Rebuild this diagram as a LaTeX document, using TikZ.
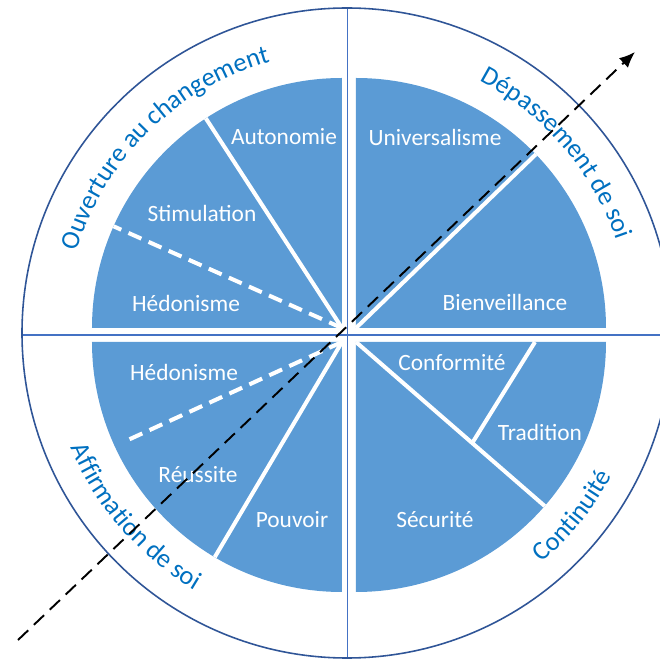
\documentclass[tikz,border=0pt]{standalone}
\usepackage{fontspec}
\setmainfont{Carlito}
\usetikzlibrary{arrows.meta,decorations.text}
\definecolor{pieblue}{HTML}{5B9BD5}
\definecolor{rimblue}{HTML}{2F5597}
\definecolor{axisblue}{HTML}{4472C4}
\definecolor{groupblue}{HTML}{0070C0}
\newcommand\groupfont{\fontsize{15}{18}\selectfont}
\tikzset{
	wedge/.style={fill=pieblue},
	split/.style={white,line width=2.3pt},
	splitdash/.style={split,dash pattern=on 8pt off 4.5pt},
	value/.style={text=white,font=\fontsize{13.3}{16}\selectfont},
	group/.style={decorate,decoration={text along path,text align=center,text color=groupblue,text={|\groupfont|#1}}},
	axisline/.style={axisblue,line width=0.6pt},
	valueaxis/.style={black,line width=1.1pt,dash pattern=on 8pt off 4.5pt,-{Latex[length=9pt,width=7.5pt]}}
}

\begin{document}
\begin{tikzpicture}[x=0.02cm,y=0.02cm]
			\useasboundingbox (-349,-324) rectangle (311,335);
			\clip (-349,-324) rectangle (311,335);
			\begin{scope}
				\clip (-2,2) circle (325);
				\draw[axisline] (-400,0) -- (400,0);
				\draw[axisline] (-1.5,-400) -- (-1.5,400);
			\end{scope}
			\draw[rimblue,line width=0.9pt] (-2,2) circle (325);
			\fill[wedge] (7,7) -- ++(0:250) arc (0:90:250) -- cycle;
			\fill[wedge] (-7,7) -- ++(90:250) arc (90:180:250) -- cycle;
			\fill[wedge] (-7,-7) -- ++(180:250) arc (180:270:250) -- cycle;
			\fill[wedge] (7,-7) -- ++(270:250) arc (270:360:250) -- cycle;
			\draw[split] (-7,7) -- ++(123:250);
			\draw[splitdash] (-7,7) -- ++(156:250);
			\draw[splitdash] (-7,-7) -- ++(204.6:236);
			\draw[split] (-7,-7) -- ++(239.4:250);
			\draw[split] (7,7) -- ++(44:250);
			\draw[split] (7,-7) -- ++(-41:250);
			\draw[split] (7,-7) ++(-41:154) -- (186,-7);
			\node[value] (autonomie) at (-65,198) {Autonomie};
			\node[value] (stimulation) at (-147,122) {Stimulation};
			\node[value] (hedonisme1) at (-163,32) {Hédonisme};
			\node[value] (universalisme) at (86,198) {Universalisme};
			\node[value] (bienveillance) at (156,33) {Bienveillance};
			\node[value] (hedonisme2) at (-165,-37) {Hédonisme};
			\node[value] (reussite) at (-151,-140) {Réussite};
			\node[value] (pouvoir) at (-57,-185) {Pouvoir};
			\node[value] (conformite) at (103,-28) {Conformité};
			\node[value] (tradition) at (191,-97) {Tradition};
			\node[value] (securite) at (86,-185) {Sécurité};
			\begin{scope}[shift={(-2,2)}]
				\path[group={Ouverture au changement}] (179.5:282) arc (179.5:89.5:282);
				\path[group={Dépassement de soi}] (85.6:285) arc (85.6:-4.4:285);
				\path[group={Continuité}] (-84:301) arc (-84:6:301);
				\path[group={Affirmation de soi}] (176:299) arc (176:266:299);
			\end{scope}
			\coordinate (tail) at (-331,-305);
			\coordinate (head) at (286,283);
			\draw[valueaxis] (tail) -- (head);
		\end{tikzpicture}
\end{document}
